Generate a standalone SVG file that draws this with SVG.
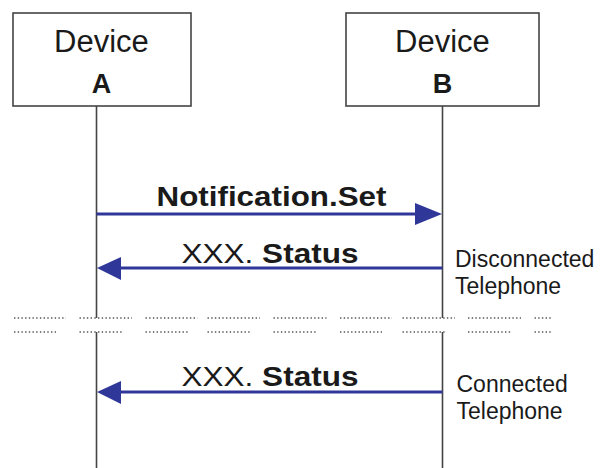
<svg xmlns="http://www.w3.org/2000/svg" width="613" height="468" viewBox="0 0 613 468">
<defs>
<style>
.box{fill:#fff;stroke:#444;stroke-width:1.6}
.life{stroke:#444;stroke-width:1.6;fill:none}
.msg{stroke:#2f3799;stroke-width:3;fill:none}
.head{fill:#2f3799}
.dev{font-family:"Liberation Sans",Arial,sans-serif;font-size:31px;fill:#1a1a1a;text-anchor:middle}
.letter{font-family:"Liberation Sans",Arial,sans-serif;font-size:27px;font-weight:bold;fill:#1a1a1a;text-anchor:middle}
.lbl{font-family:"Liberation Sans",Arial,sans-serif;font-size:28px;fill:#1a1a1a}
.b{font-weight:bold}
.note{font-family:"Liberation Sans",Arial,sans-serif;font-size:23px;fill:#1a1a1a}
.dots{stroke:#555;stroke-width:1.3;stroke-dasharray:1.4 2.3;fill:none}
</style>
</defs>
<g id="deviceA">
<rect class="box" x="13" y="13" width="178" height="93"/>
<text class="dev" x="101.5" y="51.5">Device</text>
<text class="letter" x="101.5" y="93">A</text>
</g>
<g id="deviceB">
<rect class="box" x="346" y="13" width="193" height="93"/>
<text class="dev" x="442.5" y="51.5">Device</text>
<text class="letter" x="442.5" y="93">B</text>
</g>
<g id="lifelines">
<path class="life" d="M96.5 106V318M96.5 332V468M442.5 106V318M442.5 332V468"/>
</g>
<g id="separator">
<path class="dots" d="M14 318H66M79.5 318H132M145.5 318H197.5M207.5 318H260M273.5 318H326.5M340 318H392M402.5 318H455M468 318H521M534.5 318H551"/>
<path class="dots" d="M14 332H56M79.5 332H122M145.5 332H188M207.5 332H250M273.5 332H316M340 332H382M402.5 332H445M468 332H510.5M534.5 332H551"/>
</g>
<g id="connectors">
<g id="msg1">
<path class="msg" d="M96.5 214H418"/>
<polygon class="head" points="442,214 415,203 415,225"/>
<text class="lbl b" x="156.5" y="205.5" textLength="230" lengthAdjust="spacingAndGlyphs">Notification.Set</text>
</g>
<g id="msg2">
<path class="msg" d="M442.5 268H118"/>
<polygon class="head" points="97,268 121,257 121,280"/>
<text class="lbl" x="181.5" y="262.5" textLength="177" lengthAdjust="spacingAndGlyphs">XXX. <tspan class="b">Status</tspan></text>
</g>
<g id="msg3">
<path class="msg" d="M442.5 392H118"/>
<polygon class="head" points="97,392 121,381 121,404"/>
<text class="lbl" x="181.5" y="385.5" textLength="177" lengthAdjust="spacingAndGlyphs">XXX. <tspan class="b">Status</tspan></text>
</g>
</g>
<g id="notes">
<text class="note" x="455" y="266.5">Disconnected</text>
<text class="note" x="455" y="293.5">Telephone</text>
<text class="note" x="456.5" y="391.5">Connected</text>
<text class="note" x="456.5" y="418.5">Telephone</text>
</g>
</svg>
